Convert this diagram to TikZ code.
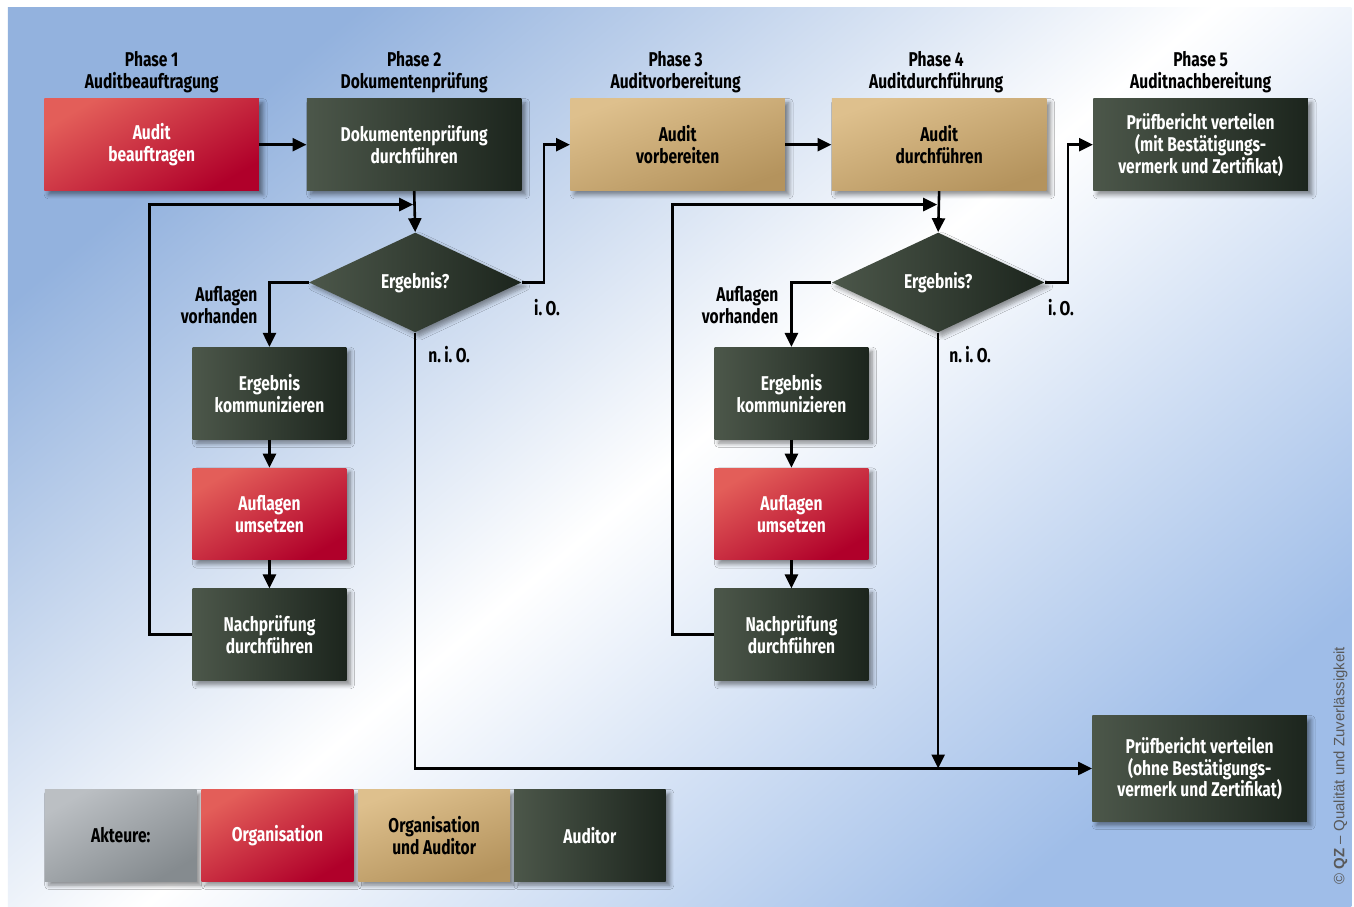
\documentclass[tikz,border=0pt]{standalone}
\usepackage{fontspec}
\setmainfont{Fira Sans}[FakeStretch=0.78]
\newfontfamily\copyfont{Liberation Sans}
\usetikzlibrary{shapes.geometric,shadows.blur,arrows.meta}

\definecolor{rotA}{HTML}{E35E59}
\definecolor{rotB}{HTML}{B0002A}
\definecolor{sandA}{HTML}{DEC08D}
\definecolor{sandB}{HTML}{B4935D}
\definecolor{gruenA}{HTML}{4C574A}
\definecolor{gruenB}{HTML}{1C251D}
\definecolor{grauA}{HTML}{BBBFC3}
\definecolor{grauB}{HTML}{858B8F}
\definecolor{himmelA}{HTML}{93B2DE}
\definecolor{himmelB}{HTML}{9FBDE8}

\begin{document}
\begin{tikzpicture}[x=0.5pt,y=-0.5pt,
  font=\bfseries\fontsize{10}{11}\selectfont,
  kasten/.style={rectangle, minimum width=107.5pt, minimum height=46pt,
    inner sep=0pt, align=center,
    blur shadow={shadow xshift=2pt, shadow yshift=-2pt, shadow blur steps=6, shadow opacity=45}},
  klein/.style={minimum width=77pt},
  org/.style={kasten, text=white, top color=rotA, bottom color=rotB, shading angle=30},
  beide/.style={kasten, text=black, top color=sandA, bottom color=sandB, shading angle=20},
  auditor/.style={kasten, text=white, left color=gruenA, right color=gruenB},
  grau/.style={kasten, text=black, top color=grauA, bottom color=grauB, shading angle=30},
  frage/.style={diamond, minimum width=106.5pt, minimum height=50pt, inner sep=0pt,
    text=white, left color=gruenA, right color=gruenB,
    blur shadow={shadow xshift=2pt, shadow yshift=-2pt, shadow blur steps=6, shadow opacity=40}},
  linie/.style={line width=1.3pt},
  pfeil/.style={linie, -{Triangle[length=7pt,width=6.5pt]}}]

  % Hintergrund
  \fill[white] (0,0) rectangle (1354,908);
  \shade[left color=himmelA, right color=himmelB, middle color=white, shading angle=40]
    (8,8) rectangle (1354,908);

  % Phasen
  \node[align=center] (phase1) at (152,72) {Phase 1\\Auditbeauftragung};
  \node[align=center] (phase2) at (415,72) {Phase 2\\Dokumentenprüfung};
  \node[align=center] (phase3) at (677,72) {Phase 3\\Auditvorbereitung};
  \node[align=center] (phase4) at (938,72) {Phase 4\\Auditdurchführung};
  \node[align=center] (phase5) at (1203,72) {Phase 5\\Auditnachbereitung};

  % obere Reihe
  \node[org] (beauftragen) at (152,145) {Audit\\beauftragen};
  \node[auditor] (dokpruef) at (415,145) {Dokumentenprüfung\\durchführen};
  \node[beide] (vorbereiten) at (679,145) {Audit\\vorbereiten};
  \node[beide] (durchfuehren) at (941,145) {Audit\\durchführen};
  \node[auditor] (berichtmit) at (1203,145) {Prüfbericht verteilen\\(mit Bestätigungs-\\vermerk und Zertifikat)};

  % Entscheidungen
  \node[frage] (entscheid1) at (416,283) {Ergebnis?};
  \node[frage] (entscheid2) at (940,283) {Ergebnis?};

  % Auflagen links
  \node[auditor,klein] (kommun1) at (270,394) {Ergebnis\\kommunizieren};
  \node[org,klein] (umsetzen1) at (270,515) {Auflagen\\umsetzen};
  \node[auditor,klein] (nachpruef1) at (270,636) {Nachprüfung\\durchführen};

  % Auflagen rechts
  \node[auditor,klein] (kommun2) at (793,394) {Ergebnis\\kommunizieren};
  \node[org,klein] (umsetzen2) at (793,515) {Auflagen\\umsetzen};
  \node[auditor,klein] (nachpruef2) at (793,636) {Nachprüfung\\durchführen};

  \node[auditor, minimum height=53pt] (berichtohne) at (1202,770) {Prüfbericht verteilen\\(ohne Bestätigungs-\\vermerk und Zertifikat)};

  % Legende
  \node[grau, minimum width=76pt] (akteure) at (121,837) {Akteure:};
  \node[org, minimum width=76pt] (legorg) at (278,837) {Organisation};
  \node[beide, minimum width=76pt] (legbeide) at (435,837) {Organisation\\und Auditor};
  \node[auditor, minimum width=76pt] (legaud) at (591,837) {Auditor};

  % Pfeile
  \coordinate (rueck1) at (414,205);
  \coordinate (rueck2) at (939,205);
  \coordinate (treffpunkt) at (940,770);

  \draw[pfeil] (beauftragen.east) -- (dokpruef.west);
  \draw[pfeil] (dokpruef.south) -- (entscheid1.north);
  \draw[pfeil] (entscheid1.west) -| (kommun1.north);
  \draw[pfeil] (entscheid1.east) -- ++(22,0) |- (vorbereiten.west);
  \draw[pfeil] (kommun1.south) -- (umsetzen1.north);
  \draw[pfeil] (umsetzen1.south) -- (nachpruef1.north);
  \draw[pfeil] (nachpruef1.west) -- ++(-43,0) |- (rueck1);
  \draw[pfeil] (entscheid1.south) |- (berichtohne.west);

  \draw[pfeil] (vorbereiten.east) -- (durchfuehren.west);
  \draw[pfeil] (durchfuehren.south) -- (entscheid2.north);
  \draw[pfeil] (entscheid2.west) -| (kommun2.north);
  \draw[pfeil] (entscheid2.east) -- ++(23,0) |- (berichtmit.west);
  \draw[pfeil] (kommun2.south) -- (umsetzen2.north);
  \draw[pfeil] (umsetzen2.south) -- (nachpruef2.north);
  \draw[pfeil] (nachpruef2.west) -- ++(-42,0) |- (rueck2);
  \draw[pfeil] (entscheid2.south) -- (treffpunkt);

  % Beschriftungen
  \node[anchor=east, align=right] (aufl1) at (265,306) {Auflagen\\vorhanden};
  \node (io1) at (548,308) {i.\,O.};
  \node (nio1) at (450,355) {n.\,i.\,O.};
  \node[anchor=east, align=right] (aufl2) at (787,306) {Auflagen\\vorhanden};
  \node (io2) at (1063,308) {i.\,O.};
  \node (nio2) at (972,355) {n.\,i.\,O.};

  \node[rotate=90, anchor=west, text=black!65, font=\copyfont\fontsize{7.5}{9}\selectfont]
    (copy) at (1343,893) {© \textbf{QZ} – Qualität und Zuverlässigkeit};
\end{tikzpicture}
\end{document}
